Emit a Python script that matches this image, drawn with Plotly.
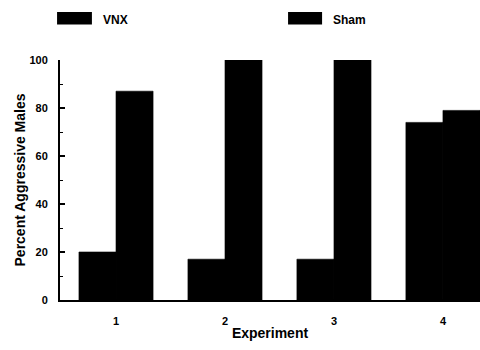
import plotly.graph_objects as go

experiments = [1, 2, 3, 4]
tick_labels = ["1", "2", "3", "4"]
vnx = [20, 17, 17, 74]
sham = [87, 100, 100, 79]
series_names = ["VNX", "Sham"]

FONT = "Liberation Sans, Arial, sans-serif"

fig = go.Figure()
fig.add_trace(go.Bar(x=experiments, y=vnx, name=series_names[0],
                     marker=dict(color="black", line=dict(width=0.6, color="black"))))
fig.add_trace(go.Bar(x=experiments, y=sham, name=series_names[1],
                     marker=dict(color="black", line=dict(width=0.6, color="black"))))

# custom legend (wide black swatches + labels) drawn in paper space
legend_items = [(series_names[0], -0.007, 0.076), (series_names[1], 0.543, 0.624)]
for name, x0, x1 in legend_items:
    fig.add_shape(type="rect", xref="paper", yref="paper",
                  x0=x0, x1=x1, y0=1.148, y1=1.2,
                  fillcolor="black", line=dict(width=0))
    fig.add_annotation(xref="paper", yref="paper", x=x1 + 0.022, y=1.165,
                       text=name, showarrow=False, xanchor="left", yanchor="middle",
                       font=dict(family=FONT, size=12, color="black", weight="bold"))

fig.update_layout(
    width=480, height=350,
    margin=dict(l=60, r=0, t=60, b=50),
    paper_bgcolor="white", plot_bgcolor="white",
    barmode="group", bargap=0.32, bargroupgap=0,
    showlegend=False,
    font=dict(family=FONT, size=11, color="black", weight="bold"),
    xaxis=dict(
        range=[0.486, 4.34], tickmode="array", tickvals=experiments, ticktext=tick_labels,
        showline=True, linecolor="black", linewidth=1.5, ticks="", showgrid=False,
        zeroline=False, ticklabelstandoff=10,
        tickfont=dict(family=FONT, size=11, color="black", weight="bold"),
        title=dict(text="Experiment", standoff=2,
                   font=dict(family=FONT, size=14, color="black", weight="bold")),
    ),
    yaxis=dict(
        range=[0, 100], tickvals=[0, 20, 40, 60, 80, 100],
        showline=True, linecolor="black", linewidth=2, ticks="inside", ticklen=5,
        tickwidth=1.5, tickcolor="black", showgrid=False, zeroline=False,
        minor=dict(tickvals=[10, 30, 50, 70, 90], ticks="inside", ticklen=3,
                   tickwidth=1.2, tickcolor="black", showgrid=False),
        ticklabelstandoff=8,
        tickfont=dict(family=FONT, size=11, color="black", weight="bold"),
        title=dict(text="Percent Aggressive Males", standoff=1,
                   font=dict(family=FONT, size=14, color="black", weight="bold")),
    ),
)

fig.write_html("out.html", config={"displayModeBar": False},
               post_script="document.body.style.margin='0';")
